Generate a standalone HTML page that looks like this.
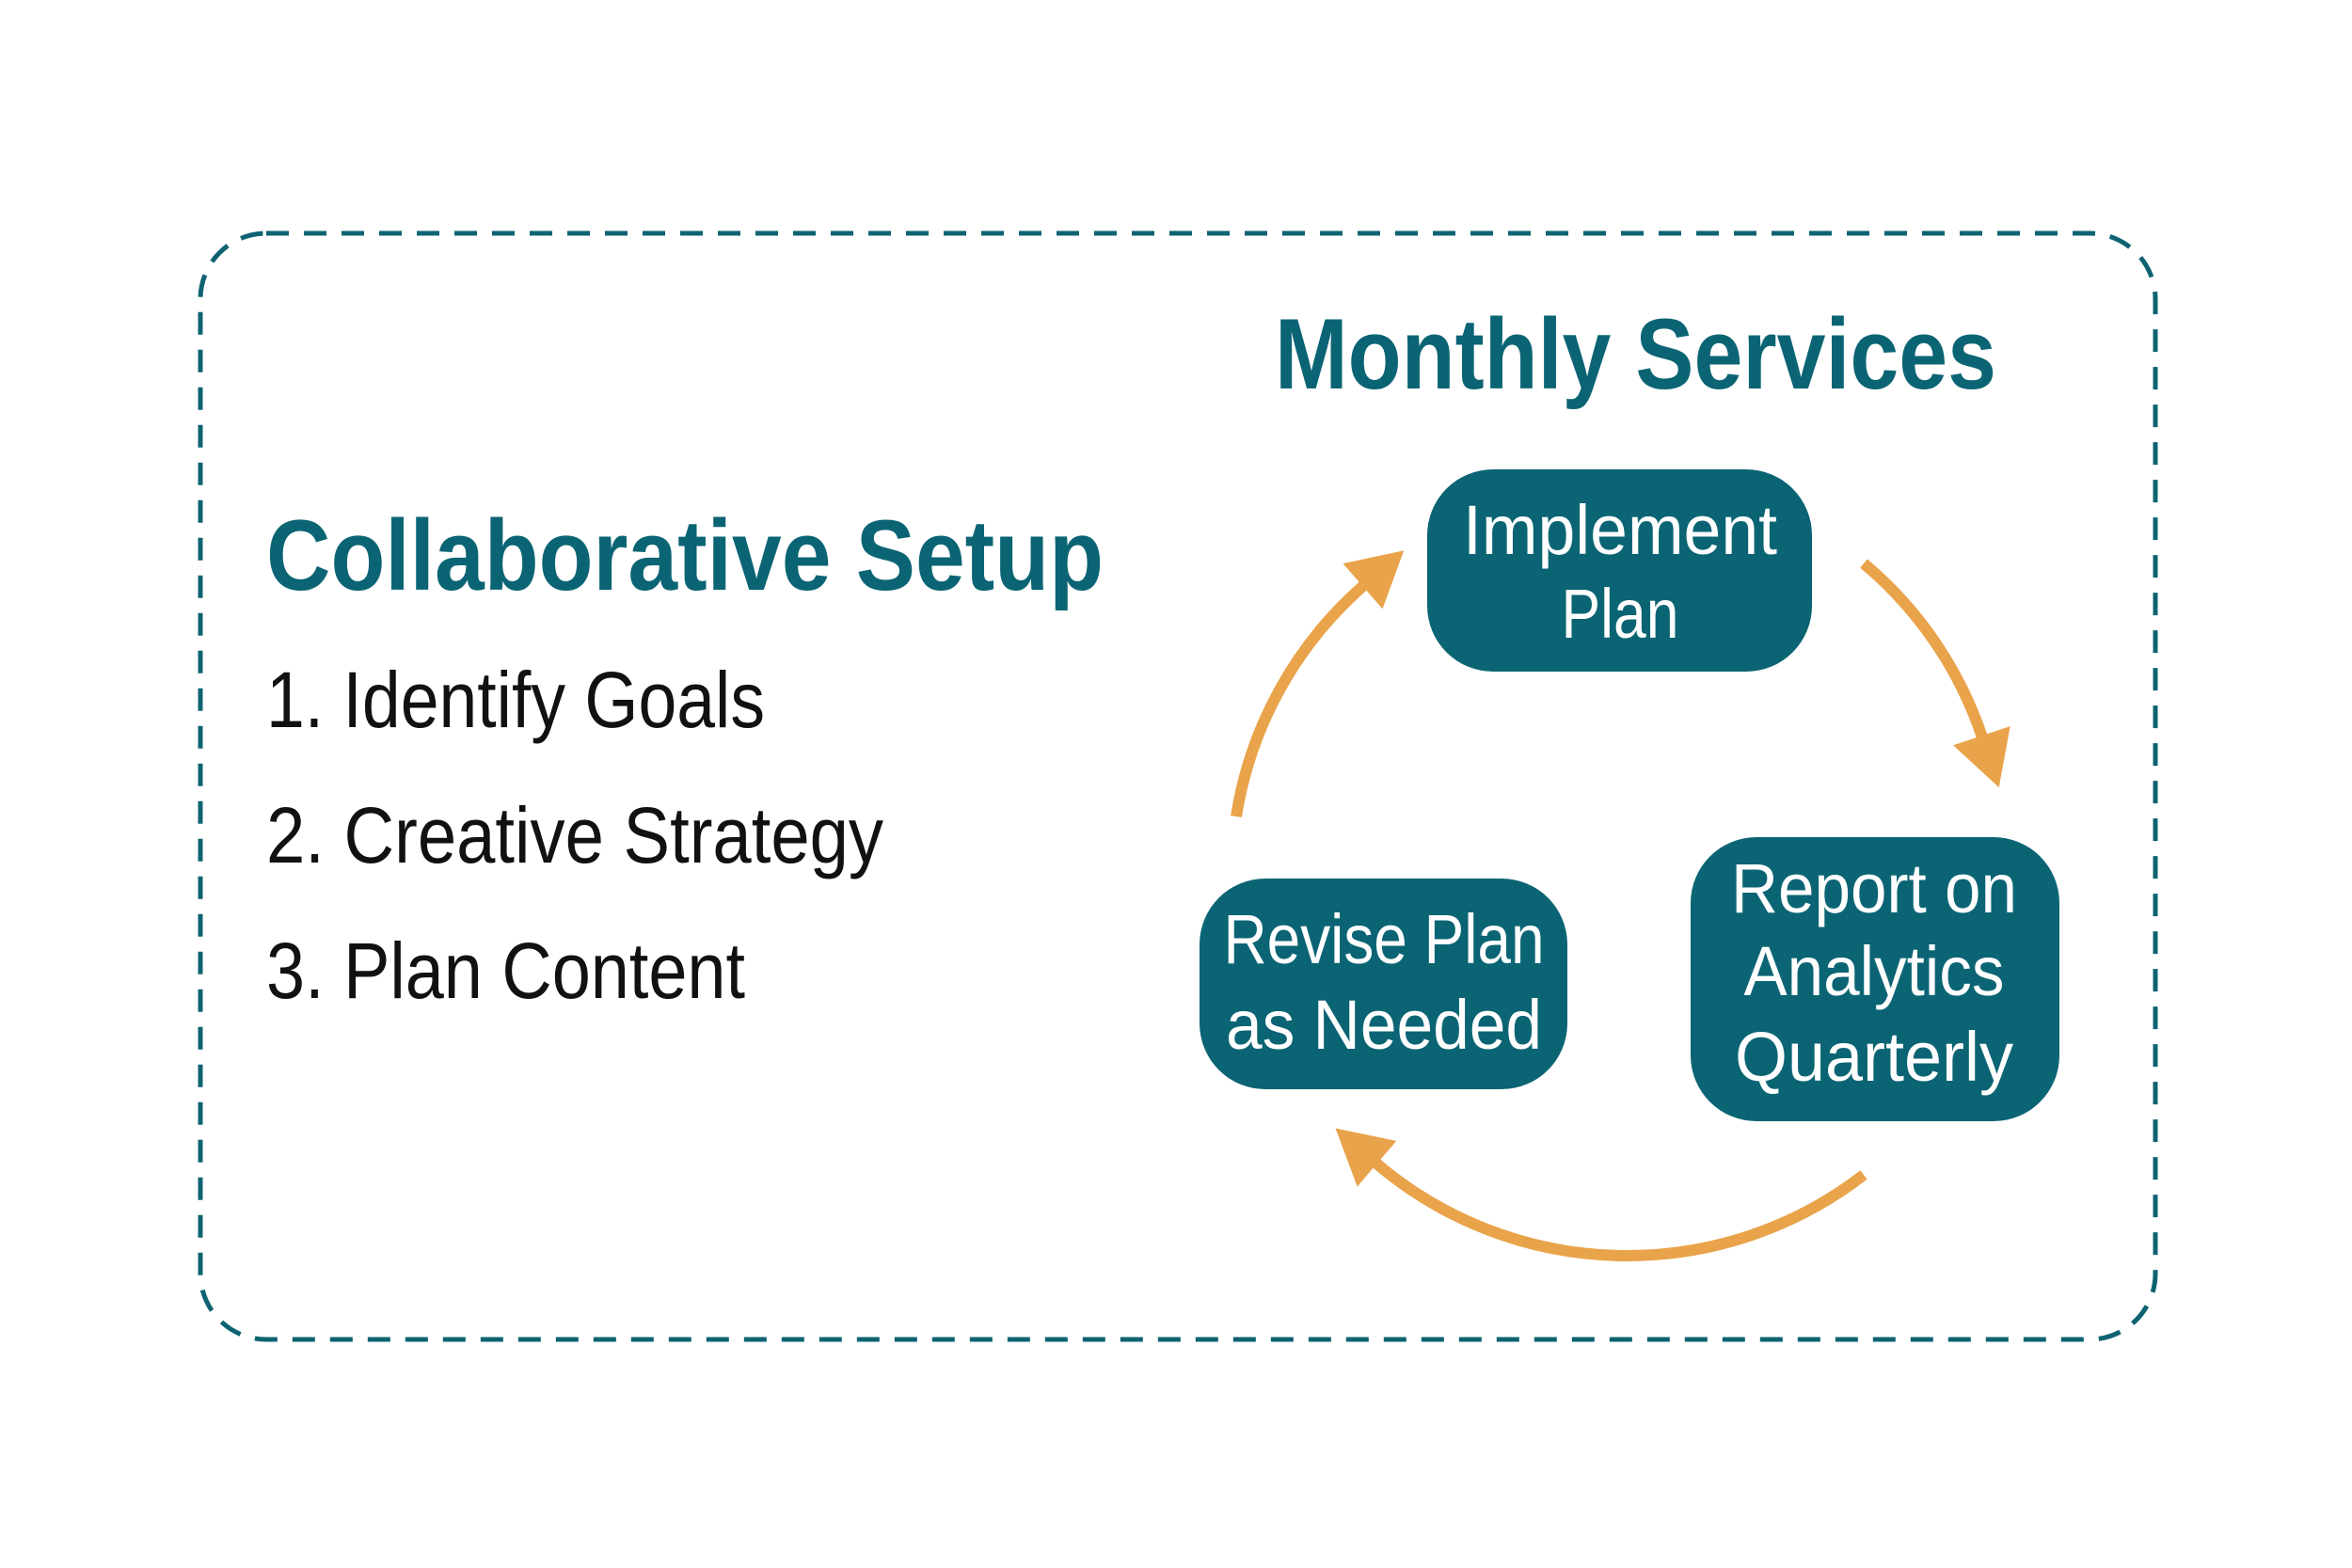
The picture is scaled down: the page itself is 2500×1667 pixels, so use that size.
<!DOCTYPE html>
<html><head><meta charset="utf-8"><style>html,body{margin:0;padding:0;background:#fff}svg{display:block}</style></head>
<body>
<svg width="2500" height="1667" viewBox="0 0 2500 1667" xmlns="http://www.w3.org/2000/svg" font-family="Liberation Sans, sans-serif">
<defs>
<marker id="ah" markerUnits="userSpaceOnUse" markerWidth="60" markerHeight="64" refX="2" refY="32" orient="auto">
<path d="M0,0 L58,32 L0,64 z" fill="#E9A34A"/>
</marker>
</defs>
<rect x="213" y="248" width="2078" height="1176" rx="70" ry="70" fill="none" stroke="#0E6372" stroke-width="5" stroke-dasharray="24 16"/>
<text x="1355" y="413" font-size="107" font-weight="bold" fill="#0B6474" textLength="767" lengthAdjust="spacingAndGlyphs">Monthly Services</text>
<text x="283" y="627" font-size="107" font-weight="bold" fill="#0B6474" textLength="890" lengthAdjust="spacingAndGlyphs">Collaborative Setup</text>
<g font-size="84" fill="#111">
<text x="283" y="773" textLength="530" lengthAdjust="spacingAndGlyphs">1. Identify Goals</text>
<text x="283" y="917" textLength="656" lengthAdjust="spacingAndGlyphs">2. Creative Strategy</text>
<text x="283" y="1061" textLength="509" lengthAdjust="spacingAndGlyphs">3. Plan Content</text>
</g>
<g fill="#0B6474">
<rect x="1517" y="499" width="409" height="215" rx="70"/>
<rect x="1797" y="890" width="392" height="302" rx="70"/>
<rect x="1275" y="934" width="391" height="224" rx="70"/>
</g>
<g font-size="74" fill="#fff" text-anchor="middle">
<text x="1722" y="589" textLength="334" lengthAdjust="spacingAndGlyphs">Implement</text>
<text x="1722" y="678" textLength="125" lengthAdjust="spacingAndGlyphs">Plan</text>
<text x="1992" y="970" textLength="304" lengthAdjust="spacingAndGlyphs">Report on</text>
<text x="1992" y="1058" textLength="277" lengthAdjust="spacingAndGlyphs">Analytics</text>
<text x="1992" y="1149" textLength="296" lengthAdjust="spacingAndGlyphs">Quarterly</text>
<text x="1471" y="1024" textLength="341" lengthAdjust="spacingAndGlyphs">Revise Plan</text>
<text x="1471" y="1115" textLength="336" lengthAdjust="spacingAndGlyphs">as Needed</text>
</g>
<g fill="none" stroke="#E9A34A" stroke-width="12">
<path d="M1314,868 A411,411 0 0 1 1450,622" marker-end="url(#ah)"/>
<path d="M1981,599 A411,411 0 0 1 2107,784" marker-end="url(#ah)"/>
<path d="M1981,1249 A411,411 0 0 1 1462,1236" marker-end="url(#ah)"/>
</g>
</svg>
</body></html>
